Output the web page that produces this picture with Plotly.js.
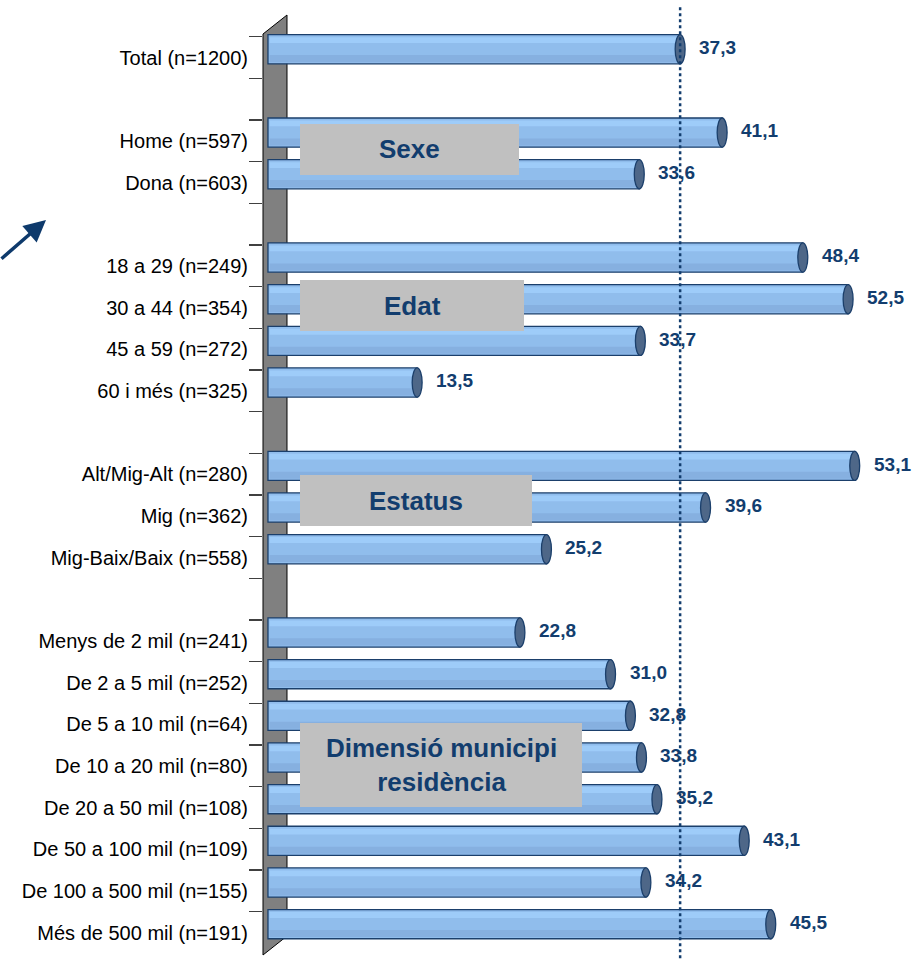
<!DOCTYPE html>
<html>
<head>
<meta charset="utf-8">
<script src="https://cdn.plot.ly/plotly-3.0.1.min.js"></script>
<style>html,body{margin:0;padding:0;background:#fff;}#chart{width:913px;height:961px;}</style>
</head>
<body>
<div id="chart"></div>
<script>
// Categories (blank-named ones are the gaps between groups)
const categories = [
  "Total (n=1200)", " ",
  "Home (n=597)", "Dona (n=603)", "  ",
  "18 a 29 (n=249)", "30 a 44 (n=354)", "45 a 59 (n=272)", "60 i més (n=325)", "   ",
  "Alt/Mig-Alt (n=280)", "Mig (n=362)", "Mig-Baix/Baix (n=558)", "    ",
  "Menys de 2 mil (n=241)", "De 2 a 5 mil (n=252)", "De 5 a 10 mil (n=64)", "De 10 a 20 mil (n=80)",
  "De 20 a 50 mil (n=108)", "De 50 a 100 mil (n=109)", "De 100 a 500 mil (n=155)", "Més de 500 mil (n=191)"
];
const values = [
  37.3, null,
  41.1, 33.6, null,
  48.4, 52.5, 33.7, 13.5, null,
  53.1, 39.6, 25.2, null,
  22.8, 31.0, 32.8, 33.8, 35.2, 43.1, 34.2, 45.5
];
const totalValue = 37.3;
const groupLabels = ["Sexe", "Edat", "Estatus", "Dimensió municipi<br>residència"];

const navy = "#123D6E";
const FONT = "Liberation Sans, Arial, sans-serif";
const labelText = values.map(v => v === null ? "" : v.toFixed(1).replace(".", ","));
const shortVals = values.map(v => v === null ? null : v - 0.3);

const traces = [
  {type: "bar", orientation: "h", y: categories, x: values, width: 0.7, offset: -0.55,
   marker: {color: "#90BDEC", line: {color: "#1B3F6B", width: 1.3}},
   hoverinfo: "skip", showlegend: false},
  {type: "bar", orientation: "h", y: categories, x: shortVals, width: 0.14, offset: -0.49,
   base: 0.15, marker: {color: "#9ECCF9", line: {width: 0}}, hoverinfo: "skip", showlegend: false},
  {type: "bar", orientation: "h", y: categories, x: shortVals, width: 0.17, offset: -0.06,
   base: 0.15, marker: {color: "#86B0E0", line: {width: 0}}, hoverinfo: "skip", showlegend: false}
];

const shapes = [];
// 3D wall
shapes.push({type: "path", xref: "paper", yref: "paper", layer: "below",
  path: "M 0 0 L 0 1 L 0.0369 1.0206 L 0.0369 0.0206 Z",
  fillcolor: "#808080", line: {color: "#000", width: 1}});
// end caps
values.forEach((v, i) => {
  if (v === null) return;
  shapes.push({type: "circle", xref: "x", yref: "y", layer: "above",
    x0: v - 0.45, x1: v + 0.45, y0: i - 0.55, y1: i + 0.15,
    fillcolor: "#4E6788", line: {color: "#1B3F6B", width: 1.3}});
});
// reference dotted line at total
shapes.push({type: "line", xref: "x", yref: "paper", x0: totalValue, x1: totalValue,
  y0: -0.01, y1: 1.03, line: {color: navy, width: 2.5, dash: "dot"}});

// group boxes (pixel positions in the 913x961 frame)
const L = 263, W = 650, B = 955, H = 921;
const boxes = [
  {x: 300, y: 124, w: 219, h: 51},
  {x: 300, y: 280, w: 224, h: 51},
  {x: 300, y: 475, w: 232, h: 51},
  {x: 300, y: 723, w: 282, h: 84}
];
const annotations = [];
boxes.forEach((b, k) => {
  shapes.push({type: "rect", xref: "paper", yref: "paper", layer: "above",
    x0: (b.x - L) / W, x1: (b.x + b.w - L) / W, y0: (B - b.y - b.h) / H, y1: (B - b.y) / H,
    fillcolor: "#C0C0C0", line: {width: 0}});
  annotations.push({xref: "paper", yref: "paper", x: (b.x + b.w / 2 - L) / W, y: (B - b.y - b.h / 2) / H,
    xanchor: "center", yanchor: "middle", showarrow: false, text: "<b>" + groupLabels[k] + "</b>",
    align: "center", font: {family: FONT, size: 26, color: navy}});
});
// value labels
values.forEach((v, i) => {
  if (v === null) return;
  annotations.push({xref: "x", yref: "y", x: v, y: categories[i], xanchor: "left", yanchor: "middle",
    xshift: 17, yshift: 10, showarrow: false, text: "<b>" + labelText[i] + "</b>",
    font: {family: FONT, size: 19, color: navy}});
});
// arrow at the left edge
annotations.push({xref: "paper", yref: "paper", x: (46 - L) / W, y: (B - 220) / H,
  showarrow: true, text: "", arrowhead: 2, arrowsize: 1.25, arrowwidth: 3.5, arrowcolor: "#0E3A6C",
  ax: -48, ay: 40});

const layout = {
  width: 913, height: 961,
  margin: {l: L, r: 0, t: 34, b: 6, pad: 0},
  paper_bgcolor: "#fff", plot_bgcolor: "rgba(0,0,0,0)",
  barmode: "overlay", showlegend: false,
  font: {family: FONT, size: 20, color: "#000"},
  xaxis: {range: [-0.45, -0.45 + W / 11.05], showgrid: false, zeroline: false, showticklabels: false,
          showline: false, ticks: "", fixedrange: true},
  yaxis: {type: "category", categoryorder: "array", categoryarray: categories, autorange: "reversed",
          ticks: "outside", tickson: "boundaries", ticklen: 13, tickcolor: "#404040", tickwidth: 1.5,
          showgrid: false, zeroline: false, showline: false, ticklabelstandoff: 14,
          tickfont: {family: FONT, size: 20, color: "#000"}},
  shapes: shapes, annotations: annotations
};

Plotly.newPlot("chart", traces, layout, {displayModeBar: false, staticPlot: true});
</script>
</body>
</html>
